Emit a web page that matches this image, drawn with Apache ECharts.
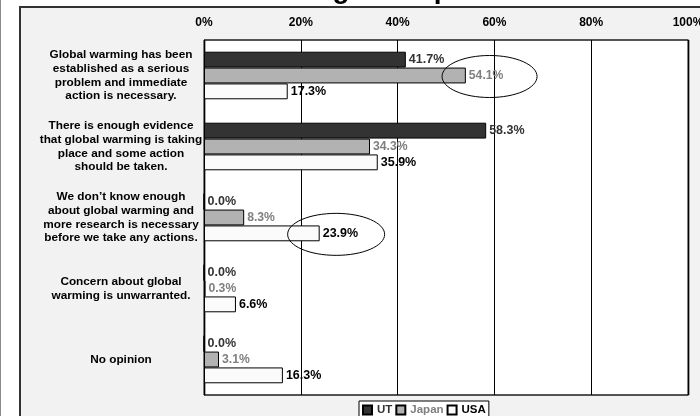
<!DOCTYPE html>
<html>
<head>
<meta charset="utf-8">
<script src="https://cdn.jsdelivr.net/npm/echarts@6/dist/echarts.min.js"></script>
<style>
  html, body { margin: 0; padding: 0; background: #fff; }
  #chart { width: 700px; height: 416px; }
</style>
</head>
<body>
<div id="chart"></div>
<script>
// answers, top to bottom
const categories = [
  'Global warming has been\nestablished as a serious\nproblem and immediate\naction is necessary.',
  'There is enough evidence\nthat global warming is taking\nplace and some action\nshould be taken.',
  'We don\u2019t know enough\nabout global warming and\nmore research is necessary\nbefore we take any actions.',
  'Concern about global\nwarming is unwarranted.',
  'No opinion'
];
const seriesNames = ['UT', 'Japan', 'USA'];
const utValues = [41.7, 58.3, 0.0, 0.0, 0.0];
const japanValues = [54.1, 34.3, 8.3, 0.3, 3.1];
const usaValues = [17.3, 35.9, 23.9, 6.6, 16.3];
const xTicks = [0, 20, 40, 60, 80, 100];

const FONT = '"Liberation Sans", Arial, sans-serif';
const fills = ['#333333', '#b2b2b2', '#fbfbfb'];
const labelColors = ['#333333', '#7f7f7f', '#000000'];
const labelSizes = [12.5, 12.2, 12.5];

const chart = echarts.init(document.getElementById('chart'));

const makeSeries = (name, data, i) => ({
  name: name,
  type: 'bar',
  data: data,
  barGap: '0%',
  barCategoryGap: '33%',
  itemStyle: { color: fills[i], borderColor: '#000', borderWidth: 1 },
  label: {
    show: true,
    position: 'right',
    distance: 3,
    color: labelColors[i],
    fontFamily: FONT,
    fontWeight: 'bold',
    fontSize: labelSizes[i],
    formatter: (p) => p.value.toFixed(1) + '%'
  },
  z: 3
});

chart.setOption({
  animation: false,
  backgroundColor: 'transparent',
  grid: {
    left: 204, right: 12, top: 40, bottom: 21,
    outerBoundsMode: 'none',
    containLabel: false,
    show: true,
    backgroundColor: '#fff',
    borderColor: '#000',
    borderWidth: 1,
    shadowColor: '#555',
    shadowOffsetX: 1,
    shadowBlur: 0
  },
  legend: {
    data: seriesNames.map((n, i) => ({ name: n, textStyle: { color: labelColors[i] } })),
    left: 359,
    top: 401,
    icon: 'rect',
    itemWidth: 9,
    itemHeight: 9,
    itemGap: 3,
    padding: [3, 3, 3, 3],
    borderColor: '#000',
    borderWidth: 1,
    backgroundColor: '#fff',
    textStyle: { fontFamily: FONT, fontWeight: 'bold', fontSize: 11.5 }
  },
  xAxis: {
    type: 'value',
    position: 'top',
    min: xTicks[0],
    max: xTicks[xTicks.length - 1],
    interval: xTicks[1] - xTicks[0],
    axisLine: { show: false },
    axisTick: { show: false },
    splitLine: { lineStyle: { color: '#000', width: 1 } },
    axisLabel: {
      formatter: '{value}%',
      color: '#000',
      fontFamily: FONT,
      fontWeight: 'bold',
      fontSize: 12,
      margin: 11
    }
  },
  yAxis: {
    type: 'category',
    data: categories,
    inverse: true,
    axisLine: { lineStyle: { color: '#000', width: 1 } },
    axisTick: { length: 4, lineStyle: { color: '#000' } },
    axisLabel: {
      align: 'center',
      margin: 83,
      color: '#000',
      fontFamily: FONT,
      fontWeight: 'bold',
      fontSize: 11.8,
      lineHeight: 13.7
    }
  },
  series: [
    makeSeries('UT', utValues, 0),
    makeSeries('Japan', japanValues, 1),
    makeSeries('USA', usaValues, 2)
  ]
});

// hand-drawn style callout rings around two of the bars
const callouts = [
  { category: 0, series: 1, value: japanValues[0], shiftX: 4.9, rx: 47.5, ry: 21 },
  { category: 2, series: 2, value: usaValues[2], shiftX: 3.4, rx: 48.5, ry: 21 }
];
const c0 = chart.convertToPixel({ yAxisIndex: 0 }, 0);
const c1 = chart.convertToPixel({ yAxisIndex: 0 }, 1);
const band = c1 - c0;
const barW = band * (1 - 0.33) / 3;

const rings = callouts.map((c) => {
  const cx = chart.convertToPixel({ xAxisIndex: 0 }, c.value + c.shiftX);
  const cy = chart.convertToPixel({ yAxisIndex: 0 }, c.category) + (c.series - 1) * barW + 1;
  return {
    type: 'ellipse',
    shape: { cx: cx, cy: cy, rx: c.rx, ry: c.ry },
    style: { fill: null, stroke: '#000', lineWidth: 1 },
    z: 100
  };
});

chart.setOption({
  graphic: [
    { type: 'rect', shape: { x: 0, y: 0, width: 1, height: 416 }, style: { fill: '#8a8a8a' }, z: -10 },
    { type: 'rect', shape: { x: 20, y: 7, width: 720, height: 440 },
      style: { fill: '#f2f2f2', stroke: '#333', lineWidth: 2 }, z: -10 },
    { type: 'text', x: 136, y: 4, z: -11,
      style: { text: 'Global Warming Perception', font: 'bold 28px ' + FONT, fill: '#000', verticalAlign: 'bottom' } }
  ].concat(rings)
});
</script>
</body>
</html>
